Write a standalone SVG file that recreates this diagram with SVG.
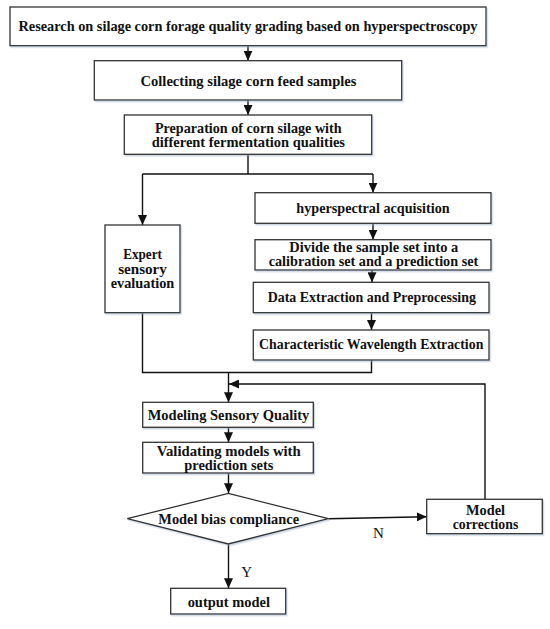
<svg xmlns="http://www.w3.org/2000/svg" width="550" height="629" viewBox="0 0 550 629">
<defs>
<marker id="ah" markerUnits="userSpaceOnUse" markerWidth="10" markerHeight="9" refX="10" refY="4.5" orient="auto">
<path d="M0,0 L10,4.5 L0,9 z" fill="#111"/>
</marker>
<filter id="sh" x="-10%" y="-20%" width="120%" height="150%">
<feDropShadow dx="1.2" dy="1.5" stdDeviation="0.7" flood-color="#8fa8c4" flood-opacity="0.45"/>
</filter>
<style>
.box{fill:#fff;stroke:#333;stroke-width:1.3;filter:url(#sh)}
.t{font-family:"Liberation Serif","Times New Roman",serif;font-weight:bold;font-size:15px;fill:#111;text-anchor:middle}
.m{font-size:14px}
.r{font-family:"Liberation Serif","Times New Roman",serif;font-size:15px;fill:#111;text-anchor:middle}
.c{fill:none;stroke:#111;stroke-width:1.4}
.a{marker-end:url(#ah)}
</style>
</defs>
<rect width="550" height="629" fill="#fff"/>
<g id="connectors">
<path class="c a" d="M248 45.7 V60.7"/>
<path class="c a" d="M248 100 V115"/>
<path class="c" d="M248 154.3 V174 M142.5 174 H373"/>
<path class="c a" d="M142.5 174 V225"/>
<path class="c a" d="M373 174 V192.7"/>
<path class="c a" d="M373 223.3 V239.7"/>
<path class="c a" d="M372 270 V282.3"/>
<path class="c a" d="M371.5 312.7 V330"/>
<path class="c" d="M371.5 360 V372.5 H142.5 V312.7"/>
<path class="c a" d="M228.5 372.5 V402.3"/>
<path class="c a" d="M485 499.3 V384 H229"/>
<path class="c a" d="M228.5 427.3 V442.3"/>
<path class="c a" d="M228.5 473 V493.3"/>
<path class="c a" d="M328.3 518.7 L426.7 516.7"/>
<path class="c a" d="M228.5 544 V588.3"/>
<text class="r" x="378.3" y="537.8">N</text>
<text class="r" x="246.7" y="577.3">Y</text>
</g>
<g id="n1"><rect class="box" x="10" y="7" width="476" height="38.7"/>
<text class="t" x="248" y="31.3" textLength="459" lengthAdjust="spacingAndGlyphs">Research on silage corn forage quality grading based on hyperspectroscopy</text></g>
<g id="n2"><rect class="box" x="94.3" y="60.7" width="307.4" height="39.3"/>
<text class="t" x="248.5" y="85.8" textLength="216" lengthAdjust="spacingAndGlyphs">Collecting silage corn feed samples</text></g>
<g id="n3"><rect class="box" x="124.3" y="115" width="247.4" height="39.3"/>
<text class="t m" x="248.3" y="132.6" textLength="186.7" lengthAdjust="spacingAndGlyphs">Preparation of corn silage with</text>
<text class="t m" x="248.3" y="146.6" textLength="193.3" lengthAdjust="spacingAndGlyphs">different fermentation qualities</text></g>
<g id="n4"><rect class="box" x="105" y="225" width="75" height="87.7"/>
<text class="t m" x="142.5" y="259.2" textLength="38.7" lengthAdjust="spacingAndGlyphs">Expert</text>
<text class="t m" x="142.5" y="273.9" textLength="48.7" lengthAdjust="spacingAndGlyphs">sensory</text>
<text class="t m" x="142.5" y="288.2" textLength="63.6" lengthAdjust="spacingAndGlyphs">evaluation</text></g>
<g id="n5"><rect class="box" x="255" y="192.7" width="236" height="30.6"/>
<text class="t" x="373" y="212.8" textLength="153.3" lengthAdjust="spacingAndGlyphs">hyperspectral acquisition</text></g>
<g id="n6"><rect class="box" x="255" y="239.7" width="236" height="30.3"/>
<text class="t m" x="373.8" y="252.1" textLength="169" lengthAdjust="spacingAndGlyphs">Divide the sample set into a</text>
<text class="t m" x="373.5" y="265.8" textLength="209.6" lengthAdjust="spacingAndGlyphs">calibration set and a prediction set</text></g>
<g id="n7"><rect class="box" x="253.3" y="282.3" width="235.7" height="30.4"/>
<text class="t" x="371.8" y="302.3" textLength="208.3" lengthAdjust="spacingAndGlyphs">Data Extraction and Preprocessing</text></g>
<g id="n8"><rect class="box" x="253.3" y="330" width="235.7" height="30"/>
<text class="t" x="371.2" y="349.3" textLength="224.3" lengthAdjust="spacingAndGlyphs">Characteristic Wavelength Extraction</text></g>
<g id="n9"><rect class="box" x="142.7" y="402.3" width="170.6" height="25"/>
<text class="t" x="228.5" y="420" textLength="161.6" lengthAdjust="spacingAndGlyphs">Modeling Sensory Quality</text></g>
<g id="n10"><rect class="box" x="142.7" y="442.3" width="170.6" height="30.7"/>
<text class="t m" x="228.7" y="455.6" textLength="144" lengthAdjust="spacingAndGlyphs">Validating models with</text>
<text class="t m" x="228.8" y="469.8" textLength="89" lengthAdjust="spacingAndGlyphs">prediction sets</text></g>
<g id="n11"><polygon class="box" points="228.3,493.3 328.3,518.7 228.3,544 127.3,518.7"/>
<text class="t" x="228.7" y="523.8" textLength="140.7" lengthAdjust="spacingAndGlyphs">Model bias compliance</text></g>
<g id="n12"><rect class="box" x="426.7" y="499.3" width="115.6" height="34.4"/>
<text class="t m" x="485.5" y="514.6" textLength="39" lengthAdjust="spacingAndGlyphs">Model</text>
<text class="t m" x="485.5" y="528.8" textLength="65.6" lengthAdjust="spacingAndGlyphs">corrections</text></g>
<g id="n13"><rect class="box" x="170.7" y="588.3" width="115" height="25.7"/>
<text class="t" x="228.8" y="606.6" textLength="82.3" lengthAdjust="spacingAndGlyphs">output model</text></g>
</svg>
